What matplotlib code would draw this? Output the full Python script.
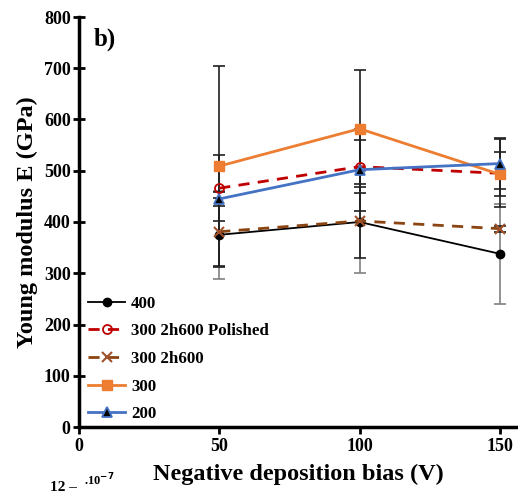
import matplotlib
matplotlib.use("Agg")
import matplotlib.pyplot as plt

plt.rcParams['font.family'] = ['Liberation Serif', 'DejaVu Serif']
plt.rcParams['font.weight'] = 'bold'

# 偏压 (V)
bias = [50, 100, 150]

# 杨氏模量 (GPa) 与误差
e_400 = [375, 400, 338]
err_400 = [86, 100, 98]
e_pol = [466, 508, 495]
err_pol = [65, 52, 66]
e_2h600 = [381, 402, 387]
err_2h600 = [66, 73, 6]
e_300 = [509, 582, 493]
err_300 = [196, 114, 43]
e_200 = [445, 502, 514]
err_200 = [14, 80, 49]

labels = ["400", "300 2h600 Polished", "300 2h600", "300", "200"]

fig = plt.figure(figsize=(5.18, 4.94), dpi=100)
ax = fig.add_axes([79 / 518, 1 - 427 / 494, (518 - 79) / 518, (427 - 17) / 494])

# 误差棒先画, 在线的下面
ebs = [(e_400, err_400, '#808080'), (e_pol, err_pol, '#202020'),
       (e_2h600, err_2h600, '#202020'), (e_300, err_300, '#202020'),
       (e_200, err_200, '#202020')]
for vals, errs, c in ebs:
    ax.errorbar(bias, vals, yerr=errs, fmt='none', ecolor=c, elinewidth=1.2,
                capsize=4, capthick=1.2, zorder=1)

ax.plot(bias, e_400, color='black', lw=1.3, marker='o', ms=6,
        mfc='black', mec='black', label=labels[0], zorder=3)
ax.plot(bias, e_pol, color='#C00000', lw=2.0, ls=(0, (4, 3)), marker='o', ms=6.5,
        mfc='none', mec='#C00000', mew=1.3, label=labels[1], zorder=3)
ax.plot(bias, e_2h600, color='#8B4513', lw=2.0, ls=(0, (4, 3)), marker='x', ms=6.5,
        mec='#A0522D', mew=1.5, label=labels[2], zorder=3)
ax.plot(bias, e_300, color='#ED7D31', lw=2.0, marker='s', ms=7,
        mfc='#ED7D31', mec='#ED7D31', label=labels[3], zorder=4)
ax.plot(bias, e_200, color='#4472C4', lw=2.0, marker='^', ms=6.5,
        mfc='black', mec='#4472C4', mew=1.3, label=labels[4], zorder=4)

ax.set_xlim(0, 156.5)
ax.set_ylim(0, 800)
ax.set_xticks([0, 50, 100, 150])
ax.set_yticks(range(0, 801, 100))

for s in ['top', 'right']:
    ax.spines[s].set_visible(False)
for s in ['left', 'bottom']:
    ax.spines[s].set_linewidth(2.5)

ax.tick_params(axis='y', direction='inout', length=8, width=2, labelsize=13, pad=2)
ax.tick_params(axis='x', direction='out', length=5, width=2, labelsize=13, pad=3)
for t in ax.get_xticklabels() + ax.get_yticklabels():
    t.set_fontweight('bold')

ax.set_xlabel("Negative deposition bias (V)", fontsize=17.5, fontweight='bold', labelpad=6)
ax.set_ylabel("Young modulus E (GPa)", fontsize=17.5, fontweight='bold', labelpad=4)

ax.text(0.033, 0.93, "b)", transform=ax.transAxes, fontsize=18, fontweight='bold')

leg = ax.legend(loc='lower left', bbox_to_anchor=(0.005, -0.005), frameon=False,
                fontsize=12.2, handlelength=2.2, handletextpad=0.35,
                labelspacing=0.69, borderaxespad=0.0)
for t in leg.get_texts():
    t.set_fontweight('bold')

# 下一幅子图的刻度 (在原图中被裁掉)
fig.text(50 / 518, 0.0, "12 \u2013", fontsize=11, fontweight='bold', va='bottom')
fig.text(84 / 518, 1 - 480 / 494, r".10$^{-7}$", fontsize=9, fontweight='bold', va='center')

fig.savefig("out.png", dpi=100)
